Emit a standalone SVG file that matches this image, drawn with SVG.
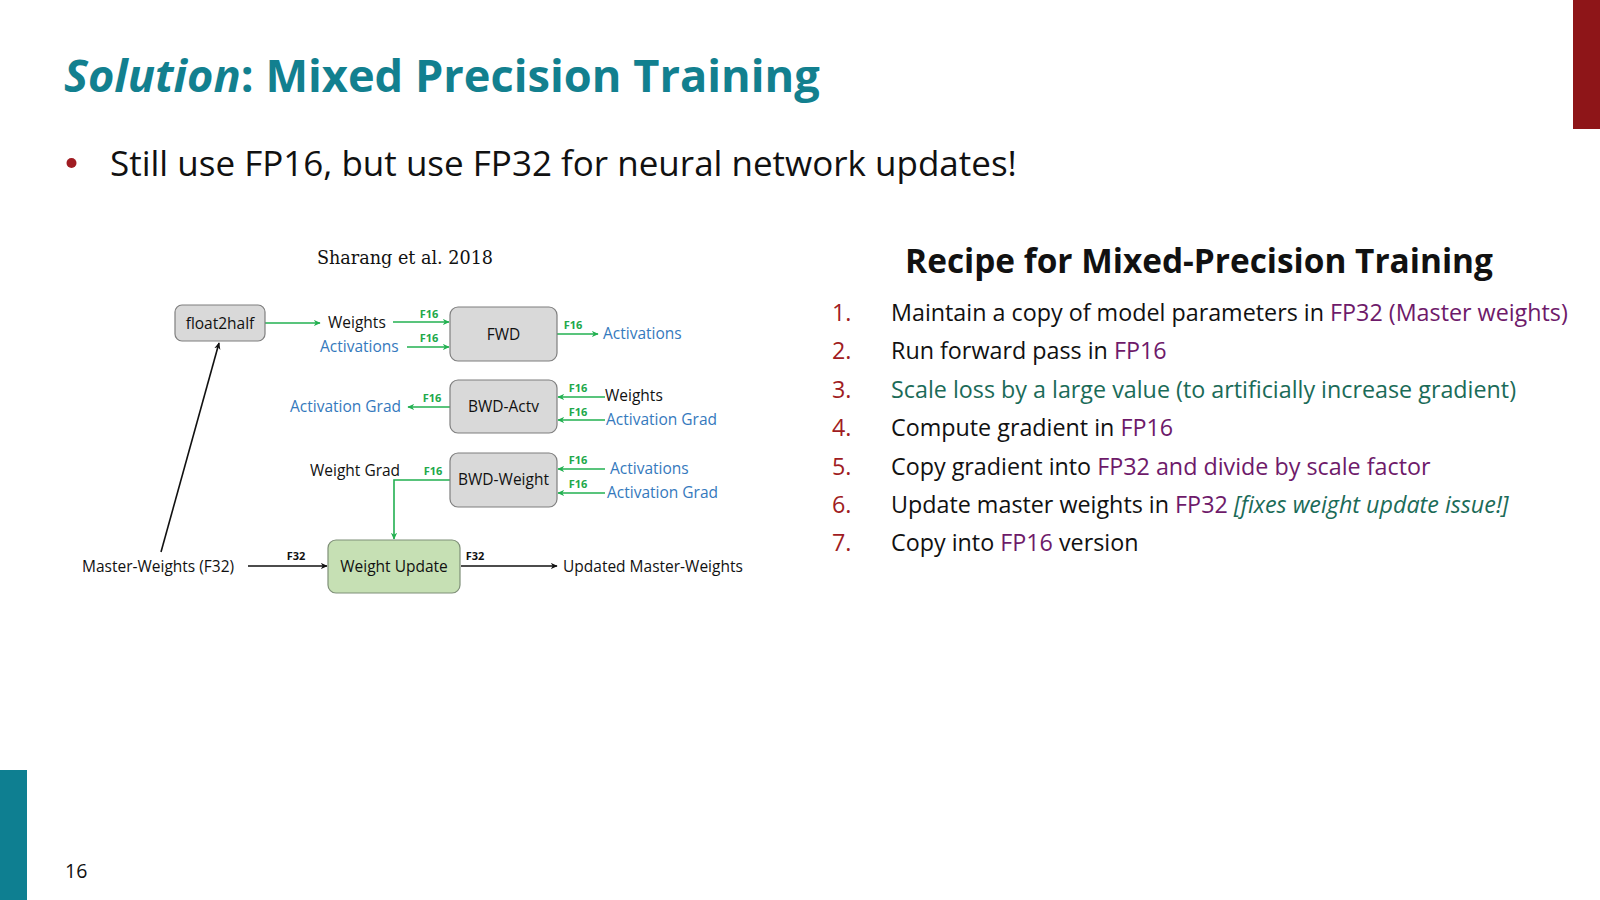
<svg xmlns="http://www.w3.org/2000/svg" width="1600" height="900" viewBox="0 0 1600 900">
<defs>
<style>
.t{font-family:"Open Sans","Noto Sans","Liberation Sans",sans-serif}
.lbl{font-family:"Open Sans","Noto Sans","Liberation Sans",sans-serif;font-size:15.5px;fill:#111}
.lbl.blue{fill:#3579BD}
.f16{font-family:"Open Sans","Noto Sans","Liberation Sans",sans-serif;font-size:11px;font-weight:bold;fill:#21A84A;text-anchor:middle}
.f32{font-family:"Open Sans","Noto Sans","Liberation Sans",sans-serif;font-size:11px;font-weight:bold;fill:#111;text-anchor:middle}
.box{fill:#D9D9D9;stroke:#7F7F7F;stroke-width:1.2}
.boxg{fill:#C6E0B4;stroke:#7F8F78;stroke-width:1.2}
.nt{font-family:"Open Sans","Noto Sans","Liberation Sans",sans-serif;font-size:15.5px;fill:#111;text-anchor:middle}
.g{stroke:#22B050;stroke-width:1.6;fill:none;marker-end:url(#ag)}
.k{stroke:#111;stroke-width:1.6;fill:none;marker-end:url(#ak)}
.li{font-family:"Open Sans","Noto Sans","Liberation Sans",sans-serif;font-size:23.3px;fill:#111}
.li.num{fill:#A01C22}
.li.grn,.grn{fill:#1B6B58}
.pur{fill:#6E1A6A}
</style>
<marker id="ag" viewBox="0 0 10 10" refX="9" refY="5" markerWidth="7" markerHeight="7" markerUnits="userSpaceOnUse" orient="auto"><path d="M0,0.5 L10,5 L0,9.5 L3,5 Z" fill="#22B050"/></marker>
<marker id="ak" viewBox="0 0 10 10" refX="9" refY="5" markerWidth="7" markerHeight="7" markerUnits="userSpaceOnUse" orient="auto"><path d="M0,0.5 L10,5 L0,9.5 L3,5 Z" fill="#111"/></marker>
</defs>
<rect x="0" y="0" width="1600" height="900" fill="#FFFFFF"/>
<rect x="1573" y="0" width="27" height="129" fill="#8E1518"/>
<rect x="0" y="770" width="27" height="130" fill="#0E7F91"/>
<text class="t" x="65" y="878" font-size="19.5" fill="#111">16</text>

<text class="t" x="64" y="92" font-size="45.2" font-weight="bold" fill="#12808F"><tspan font-style="italic">Solution</tspan>: Mixed Precision Training</text>
<circle cx="71.5" cy="163" r="5" fill="#A01C22"/>
<text class="t" x="110" y="176" font-size="35" fill="#111">Still use FP16, but use FP32 for neural network updates!</text>

<text x="405" y="264" font-family="DejaVu Serif, Liberation Serif, serif" font-size="17.6" fill="#111" text-anchor="middle">Sharang et al. 2018</text>

<g id="connectors">
<path class="g" d="M265,323 H320"/>
<path class="g" d="M393,322 H449"/>
<path class="g" d="M407,347 H449"/>
<path class="g" d="M557,334 H598"/>
<path class="g" d="M450,407 H408"/>
<path class="g" d="M605,397 H558"/>
<path class="g" d="M605,420 H558"/>
<path class="g" d="M605,469 H558"/>
<path class="g" d="M605,493 H558"/>
<path class="g" d="M450,480 H394 V539"/>
<path class="k" d="M248,566 H327"/>
<path class="k" d="M461,566 H557"/>
<path class="k" d="M161,552 L219,343"/>
<text class="f16" x="429" y="318">F16</text>
<text class="f16" x="429" y="342">F16</text>
<text class="f16" x="573" y="329">F16</text>
<text class="f16" x="432" y="402">F16</text>
<text class="f16" x="578" y="392">F16</text>
<text class="f16" x="578" y="416">F16</text>
<text class="f16" x="578" y="464">F16</text>
<text class="f16" x="578" y="488">F16</text>
<text class="f16" x="433" y="475">F16</text>
<text class="f32" x="296" y="560">F32</text>
<text class="f32" x="475" y="560">F32</text>
</g>

<g id="float2half"><rect class="box" x="175" y="305" width="90" height="36" rx="7"/><text class="nt" x="220" y="329">float2half</text></g>
<g id="fwd"><rect class="box" x="450" y="307" width="107" height="54" rx="8"/><text class="nt" x="503.5" y="340">FWD</text></g>
<g id="bwd-actv"><rect class="box" x="450" y="380" width="107" height="53" rx="8"/><text class="nt" x="503.5" y="412">BWD-Actv</text></g>
<g id="bwd-weight"><rect class="box" x="450" y="453" width="107" height="54" rx="8"/><text class="nt" x="503.5" y="485">BWD-Weight</text></g>
<g id="weight-update"><rect class="boxg" x="328" y="540" width="132" height="53" rx="8"/><text class="nt" x="394" y="572">Weight Update</text></g>

<g id="labels">
<text class="lbl" x="328" y="328">Weights</text>
<text class="lbl blue" x="320" y="352">Activations</text>
<text class="lbl blue" x="603" y="339">Activations</text>
<text class="lbl blue" x="290" y="412">Activation Grad</text>
<text class="lbl" x="605" y="401">Weights</text>
<text class="lbl blue" x="606" y="425">Activation Grad</text>
<text class="lbl blue" x="610" y="474">Activations</text>
<text class="lbl blue" x="607" y="498">Activation Grad</text>
<text class="lbl" x="310" y="476">Weight Grad</text>
<text class="lbl" x="82" y="572">Master-Weights (F32)</text>
<text class="lbl" x="563" y="572">Updated Master-Weights</text>
</g>

<text class="t" x="1199" y="273" font-size="33.4" font-weight="bold" fill="#111" text-anchor="middle">Recipe for Mixed-Precision Training</text>
<g id="recipe">
<text class="li num" x="832" y="320.5">1.</text>
<text class="li" x="891" y="320.5">Maintain a copy of model parameters in <tspan class="pur">FP32 (Master weights)</tspan></text>
<text class="li num" x="832" y="359">2.</text>
<text class="li" x="891" y="359">Run forward pass in <tspan class="pur">FP16</tspan></text>
<text class="li num" x="832" y="397.5">3.</text>
<text class="li grn" x="891" y="397.5">Scale loss by a large value (to artificially increase gradient)</text>
<text class="li num" x="832" y="436">4.</text>
<text class="li" x="891" y="436">Compute gradient in <tspan class="pur">FP16</tspan></text>
<text class="li num" x="832" y="474.5">5.</text>
<text class="li" x="891" y="474.5">Copy gradient into <tspan class="pur">FP32 and divide by scale factor</tspan></text>
<text class="li num" x="832" y="513">6.</text>
<text class="li" x="891" y="513">Update master weights in <tspan class="pur">FP32</tspan> <tspan class="grn" font-style="italic">[fixes weight update issue!]</tspan></text>
<text class="li num" x="832" y="551">7.</text>
<text class="li" x="891" y="551">Copy into <tspan class="pur">FP16</tspan> version</text>
</g>
</svg>
